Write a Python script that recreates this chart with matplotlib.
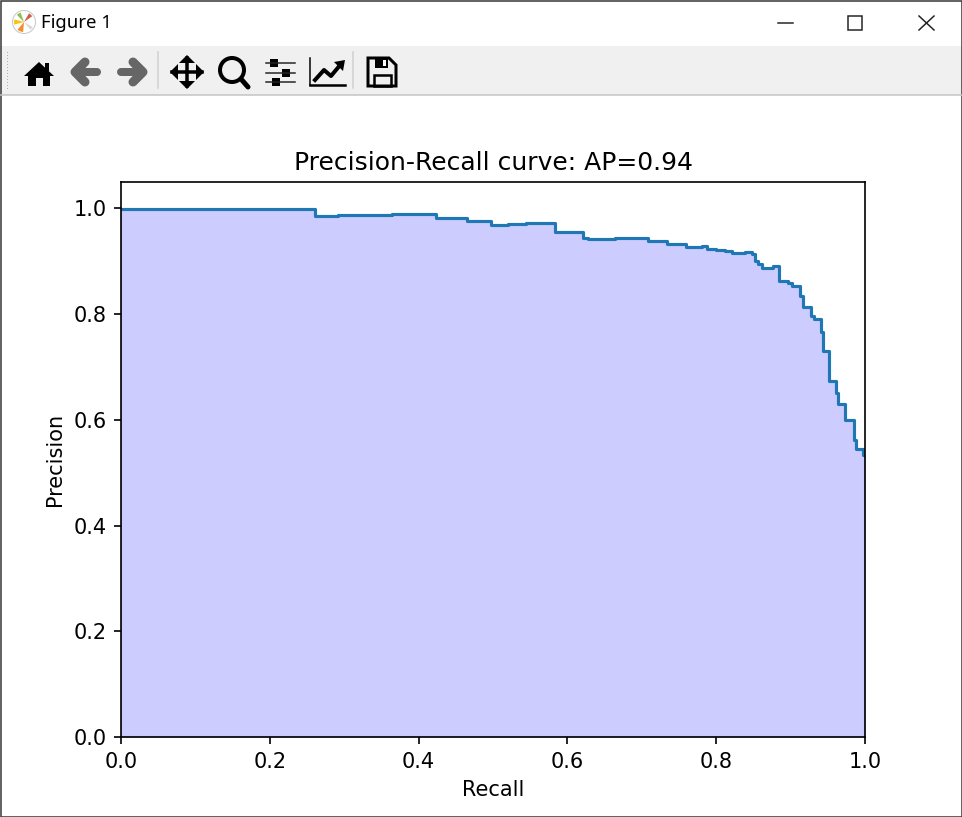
"""
Precision-recall step curve, drawn inside a copy of the Qt figure window.
"""

import matplotlib

matplotlib.use("Agg")

import matplotlib.pyplot as plt
from matplotlib.patches import Circle, Polygon, Rectangle, Wedge

W, H = 962, 817
DPI = 150
PX = 72 / DPI  # points per pixel

recall = [0.0, 0.261, 0.292, 0.364, 0.424, 0.4646, 0.497, 0.5206, 0.545, 0.584,
          0.6205, 0.628, 0.664, 0.6886, 0.7087, 0.7334, 0.760, 0.7805, 0.787,
          0.7997, 0.8118, 0.8208, 0.8387, 0.8477, 0.852, 0.8566, 0.861, 0.8766,
          0.885, 0.897, 0.9014, 0.9126, 0.917, 0.928, 0.9315, 0.9404, 0.944,
          0.952, 0.9606, 0.964, 0.9727, 0.9848, 0.9884, 0.9968, 1.0]
precision = [0.998, 0.985, 0.9875, 0.9895, 0.981, 0.976, 0.969, 0.9705, 0.972,
             0.9545, 0.945, 0.942, 0.9435, 0.945, 0.9375, 0.9335, 0.927, 0.928,
             0.9237, 0.9205, 0.9195, 0.9157, 0.9176, 0.9138, 0.901, 0.894, 0.888,
             0.891, 0.8626, 0.859, 0.853, 0.834, 0.8137, 0.797, 0.7907, 0.7655,
             0.7295, 0.6726, 0.6517, 0.6295, 0.599, 0.5625, 0.5453, 0.533, 0.533]
average_precision = 0.94

fig = plt.figure(figsize=(W / DPI, H / DPI), dpi=DPI)

# window chrome, in pixel coordinates
win = fig.add_axes([0, 0, 1, 1], zorder=0)
win.set_xlim(0, W)
win.set_ylim(H, 0)
win.axis("off")
win.add_patch(Rectangle((0, 46), W, 49, fc="#f0f0f0", ec="none"))
win.plot([0, W], [95, 95], color="#c4c4c4", lw=1.5 * PX)
win.add_patch(Rectangle((0.5, 0.5), W - 1, H - 1, fc="none", ec="#333333", lw=1.5 * PX))
win.text(41, 23, "Figure 1", fontsize=8.9, family="Noto Sans", va="center", color="black")

# app logo
win.add_patch(Circle((24, 22), 11.5, fc="white", ec="#c8c8c8", lw=1 * PX))
for t1, t2, c in [(95, 130, "#f28e2b"), (165, 195, "#f5c518"), (225, 250, "#8cc152"),
                  (300, 325, "#d0604a"), (30, 50, "#d9d9d9")]:
    win.add_patch(Wedge((24, 22), 10, t1, t2, fc=c, ec="none"))

# window buttons
win.plot([778, 793], [23, 23], color="#222222", lw=1.5 * PX)
win.add_patch(Rectangle((848, 16), 14, 14, fc="none", ec="#222222", lw=1.5 * PX))
win.plot([919, 934], [16, 30], color="#222222", lw=1.5 * PX)
win.plot([919, 934], [30, 16], color="#222222", lw=1.5 * PX)

# toolbar grip and separators
win.plot([7] * 13, range(52, 91, 3), ls="none", marker="s", ms=1 * PX, mew=0, color="#b0b0b0")
for sx in (158, 353):
    win.plot([sx, sx], [52, 88], color="#d0d0d0", lw=1.5 * PX)

# home
win.add_patch(Polygon([(24, 76), (39, 62), (54, 76)], fc="black"))
win.add_patch(Polygon([(28, 74), (50, 74), (50, 86), (43, 86), (43, 78), (36, 78), (36, 86), (28, 86)], fc="black"))
win.add_patch(Rectangle((45, 63), 4, 8, fc="black"))

# back / forward
for x0, sgn in ((86, -1), (132, 1)):
    win.plot([x0 - sgn * 11, x0 + sgn * 10], [72, 72], color="#666666", lw=8 * PX, solid_capstyle="round")
    win.plot([x0 + sgn * 1, x0 + sgn * 11, x0 + sgn * 1], [62, 72, 82], color="#666666", lw=9 * PX,
             solid_capstyle="round", solid_joinstyle="round")

# pan
win.plot([172, 202], [72, 72], color="black", lw=3.5 * PX)
win.plot([187, 187], [58, 86], color="black", lw=3.5 * PX)
for pts in ([(170, 72), (178, 64), (178, 80)], [(204, 72), (196, 64), (196, 80)],
            [(187, 55), (179, 63), (195, 63)], [(187, 89), (179, 81), (195, 81)]):
    win.add_patch(Polygon(pts, fc="black"))

# zoom
win.add_patch(Circle((232, 70), 12, fc="none", ec="black", lw=4 * PX))
win.plot([241, 248], [79, 87], color="black", lw=5 * PX, solid_capstyle="round")

# subplots sliders
for sy, kx in ((63, 274), (73, 286), (82, 276)):
    win.plot([266, 295], [sy, sy], color="#222222", lw=1.5 * PX)
    win.add_patch(Rectangle((kx - 4, sy - 4), 8, 8, fc="black"))

# edit axes
win.plot([310, 345], [85, 85], color="black", lw=2.5 * PX)
win.plot([310, 310], [58, 85], color="black", lw=1.5 * PX)
win.plot([315, 324, 331, 341], [80, 70, 76, 64], color="black", lw=4 * PX)
win.add_patch(Polygon([(345, 60), (334, 62), (343, 71)], fc="black"))

# save
win.add_patch(Polygon([(368, 58), (389, 58), (396, 65), (396, 86), (368, 86)], fc="none", ec="black", lw=3 * PX))
win.add_patch(Rectangle((375, 58), 13, 10, fc="black"))
win.add_patch(Rectangle((383, 60), 3, 6, fc="white"))
win.add_patch(Rectangle((374, 75), 17, 11, fc="none", ec="black", lw=2.5 * PX))

# the chart itself
left, right, top, bottom = 121, 865, 182, 737
ax = fig.add_axes([left / W, 1 - bottom / H, (right - left) / W, (bottom - top) / H], zorder=1)
ax.step(recall, precision, where="post")
ax.fill_between(recall, precision, step="post", alpha=0.2, color="b")
ax.set_xlim(0.0, 1.0)
ax.set_ylim(0.0, 1.05)
ax.set_xlabel("Recall")
ax.set_ylabel("Precision")
ax.set_title(f"Precision-Recall curve: AP={average_precision:.2f}")

fig.savefig("out.png", dpi=DPI)
plt.close(fig)
